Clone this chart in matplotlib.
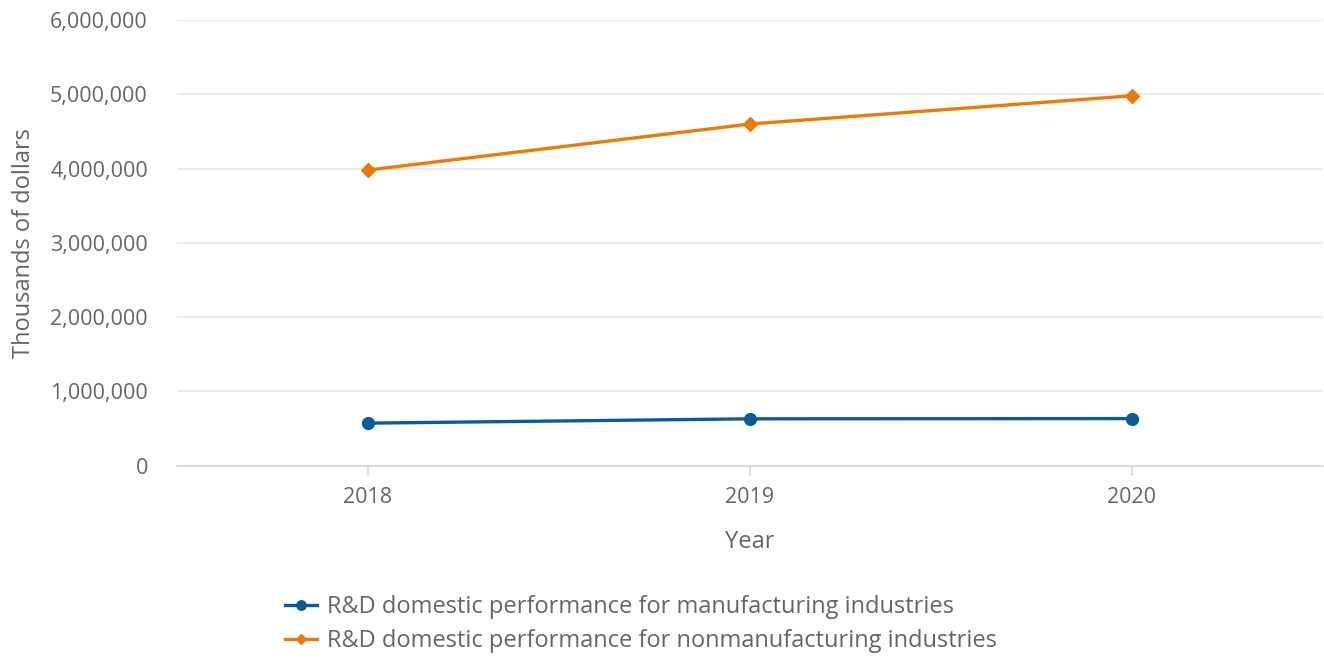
import matplotlib
matplotlib.use('Agg')
import matplotlib.pyplot as plt
from matplotlib.ticker import FuncFormatter

plt.rcParams['font.family'] = ['Open Sans', 'DejaVu Sans']

years = [2018, 2019, 2020]
manufacturing = [573000, 631000, 634000]
nonmanufacturing = [3980000, 4600000, 4980000]
labels = ['R&D domestic performance for manufacturing industries',
          'R&D domestic performance for nonmanufacturing industries']

text_color = '#666666'
blue = '#0b5a9c'
orange = '#e87b0c'

fig = plt.figure(figsize=(13.24, 6.59), dpi=100)
ax = fig.add_axes([177 / 1324, 1 - 465.7 / 659, 1146 / 1324, 445.7 / 659])

ax.plot(years, manufacturing, color=blue, lw=2.4, marker='o', ms=8.5, label=labels[0])
ax.plot(years, nonmanufacturing, color=orange, lw=2.4, marker='D', ms=7, label=labels[1])

ax.set_xlim(2017.5, 2020.5)
ax.set_ylim(0, 6000000)
ax.set_xticks(years)
ax.set_yticks(range(0, 6000001, 1000000))
ax.yaxis.set_major_formatter(FuncFormatter(lambda v, p: f'{int(v):,}'))

ax.grid(axis='y', color='#e6e6e6', lw=1.2)
ax.set_axisbelow(True)
for s in ['top', 'right', 'left']:
    ax.spines[s].set_visible(False)
ax.spines['bottom'].set_color('#ccd6eb')
ax.spines['bottom'].set_linewidth(1.2)

ax.tick_params(axis='y', length=0, pad=21, labelsize=15.5, labelcolor=text_color)
ax.tick_params(axis='x', length=7, width=1.2, color='#ccd6eb', pad=8,
               labelsize=15.5, labelcolor=text_color)

ax.set_xlabel('Year', fontsize=17, color=text_color, labelpad=16)
ax.set_ylabel('Thousands of dollars', fontsize=17, color=text_color, labelpad=10)

ax.legend(loc='upper left', bbox_to_anchor=(273 / 1324, 1 - 583 / 659),
          bbox_transform=fig.transFigure, frameon=False, borderpad=0,
          fontsize=17, labelcolor=text_color, handlelength=1.35, handletextpad=0.45,
          labelspacing=0.45, markerscale=0.8)

fig.savefig('out.png', dpi=100)
